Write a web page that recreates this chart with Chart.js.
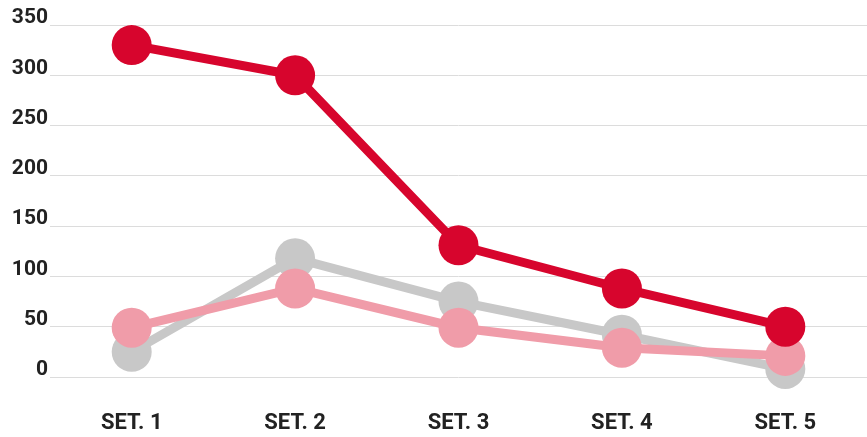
<!DOCTYPE html>
<html>
<head>
<meta charset="utf-8">
<script src="https://cdn.jsdelivr.net/npm/chart.js@4/dist/chart.umd.min.js"></script>
<style>
  html, body { margin: 0; padding: 0; background: #fff; overflow: hidden; }
  #wrap { width: 867px; height: 437px; position: relative; }
  #wrap canvas { display: block; }
</style>
</head>
<body>
<div id="wrap"><canvas id="setsChart"></canvas></div>
<script>
    // data
    const labels = ['SET. 1', 'SET. 2', 'SET. 3', 'SET. 4', 'SET. 5'];
    const redValues = [330, 300, 131, 88, 50];
    const pinkValues = [49, 88, 49, 29, 21];
    const greyValues = [25, 118, 75, 42, 8];
    const yTicks = [0, 50, 100, 150, 200, 250, 300, 350];

    const makeSet = (label, values, color) => ({
        label: label,
        data: values,
        borderColor: color,
        backgroundColor: color,
        pointBackgroundColor: color,
        pointBorderWidth: 0,
        pointRadius: 20,
        pointHoverRadius: 20,
        borderWidth: 9,
        tension: 0,
        fill: false,
        clip: false,
    });

    const ctx = document.getElementById('setsChart').getContext('2d');
    new Chart(ctx, {
        type: 'line',
        data: {
            labels: labels,
            // first dataset is painted on top
            datasets: [
                makeSet('Red', redValues, '#D7052D'),
                makeSet('Pink', pinkValues, '#F09CA9'),
                makeSet('Grey', greyValues, '#C8C8C8'),
            ],
        },
        options: {
            responsive: true,
            maintainAspectRatio: false,
            animation: false,
            layout: {
                autoPadding: false,
                padding: { top: 25, right: -4, bottom: 0, left: 6 },
            },
            scales: {
                y: {
                    min: 0,
                    max: 350,
                    afterBuildTicks: (axis) => {
                        axis.ticks = yTicks.map((v) => ({ value: v }));
                    },
                    afterFit: (axis) => {
                        axis.width = 44;
                    },
                    border: { display: false },
                    grid: {
                        color: '#DCDCDC',
                        lineWidth: 1,
                        drawTicks: false,
                    },
                    ticks: {
                        color: '#222',
                        padding: 2,
                        labelOffset: -7,
                        font: { family: 'Roboto', size: 21, weight: 'bold' },
                    },
                },
                x: {
                    offset: true,
                    afterFit: (axis) => {
                        axis.height = 60;
                        axis.paddingLeft = 0;
                        axis.paddingRight = 0;
                    },
                    border: { display: false },
                    grid: { display: false, drawTicks: false },
                    ticks: {
                        color: '#222',
                        padding: 33,
                        font: { family: 'Roboto', size: 22, weight: 'bold' },
                    },
                },
            },
            plugins: {
                legend: { display: false },
                tooltip: { enabled: false },
            },
        },
    });
</script>
</body>
</html>
